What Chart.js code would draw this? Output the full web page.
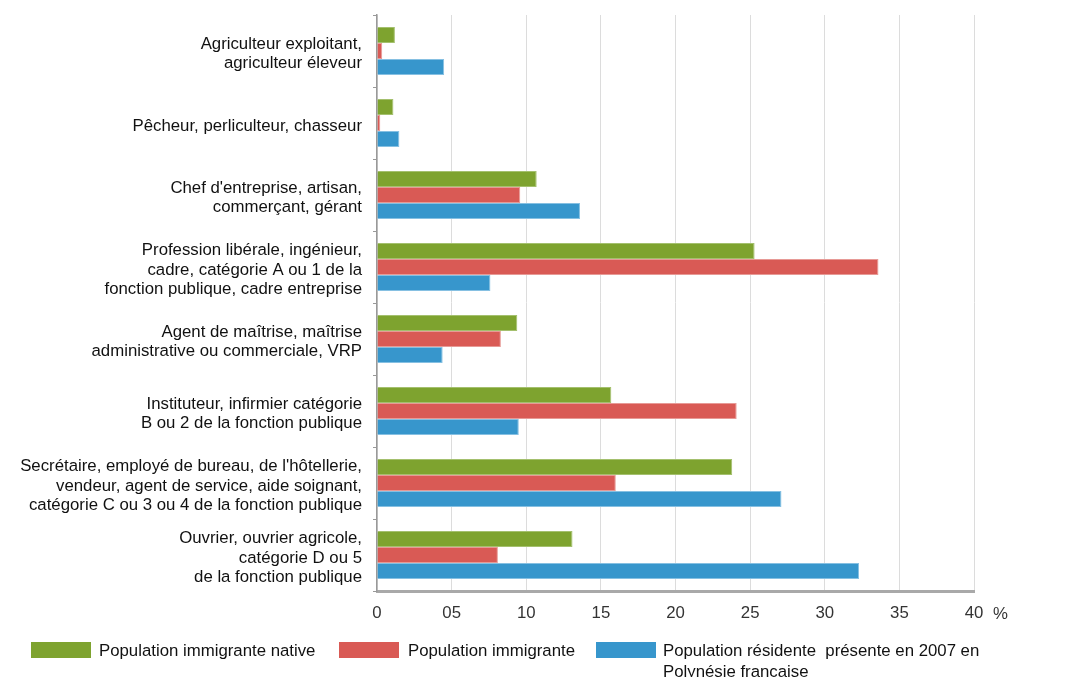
<!DOCTYPE html>
<html lang="fr">
<head>
    <meta charset="UTF-8">
    <title>Catégories socio-professionnelles</title>
    <style>
        body { margin: 0; background: #fff; font-family: "Liberation Sans", Arial, sans-serif; }
        .wrap { position: relative; width: 1070px; height: 677px; }
        .pct { position: absolute; left: 993px; top: 604px; font-size: 16.8px; color: #333; }
        .legend-item { position: absolute; font-size: 16.8px; color: #111; line-height: 21px; }
        .legend-box { position: absolute; width: 60px; height: 16px; }
    </style>
</head>
<body>
<div class="wrap">
    <canvas id="chart" width="1070" height="677"></canvas>
    <span class="pct">%</span>
    <div class="legend-box" style="left:31px; top:642px; background:#7ea32f"></div>
    <div class="legend-item" style="left:99px; top:640px">Population immigrante native</div>
    <div class="legend-box" style="left:339px; top:642px; background:#d95a55"></div>
    <div class="legend-item" style="left:408px; top:640px">Population immigrante</div>
    <div class="legend-box" style="left:596px; top:642px; background:#3796cc"></div>
    <div class="legend-item" style="left:663px; top:640px">Population résidente&nbsp; présente en 2007 en<br>Polynésie francaise</div>
</div>

<script src="https://cdn.jsdelivr.net/npm/chart.js"></script>
<script>
    // categories (multi-line labels)
    const categories = [
        ['Agriculteur exploitant,', 'agriculteur éleveur'],
        ['Pêcheur, perliculteur, chasseur'],
        ["Chef d'entreprise, artisan,", 'commerçant, gérant'],
        ['Profession libérale, ingénieur,', 'cadre, catégorie A ou 1 de la', 'fonction publique, cadre entreprise'],
        ['Agent de maîtrise, maîtrise', 'administrative ou commerciale, VRP'],
        ['Instituteur, infirmier catégorie', 'B ou 2 de la fonction publique'],
        ["Secrétaire, employé de bureau, de l'hôtellerie,", 'vendeur, agent de service, aide soignant,', 'catégorie C ou 3 ou 4 de la fonction publique'],
        ['Ouvrier, ouvrier agricole,', 'catégorie D ou 5', 'de la fonction publique']
    ];

    const seriesNames = ['Population immigrante native', 'Population immigrante', 'Population résidente présente en 2007 en Polynésie francaise'];

    const immigranteNative = [1.2, 1.1, 10.7, 25.3, 9.4, 15.7, 23.8, 13.1];
    const immigrante = [0.35, 0.22, 9.6, 33.6, 8.3, 24.1, 16.0, 8.1];
    const residente = [4.5, 1.5, 13.6, 7.6, 4.4, 9.5, 27.1, 32.3];

    const xTicks = [0, 5, 10, 15, 20, 25, 30, 35, 40];
    const xTickLabels = ['0', '05', '10', '15', '20', '25', '30', '35', '40'];

    const ctx = document.getElementById('chart').getContext('2d');
    Chart.defaults.font.family = '"Liberation Sans", Arial, sans-serif';
    Chart.defaults.font.size = 16.8;

    new Chart(ctx, {
        type: 'bar',
        data: {
            labels: categories,
            datasets: [{
                label: seriesNames[0],
                data: immigranteNative,
                backgroundColor: '#7ea32f',
                borderColor: '#a4c06e',
                borderWidth: 1
            }, {
                label: seriesNames[1],
                data: immigrante,
                backgroundColor: '#d95a55',
                borderColor: '#e79a96',
                borderWidth: 1
            }, {
                label: seriesNames[2],
                data: residente,
                backgroundColor: '#3796cc',
                borderColor: '#86c0e2',
                borderWidth: 1
            }]
        },
        options: {
            indexAxis: 'y',
            responsive: false,
            animation: false,
            layout: { padding: { top: 15, right: 96, bottom: 46, left: 0 } },
            datasets: { bar: { categoryPercentage: 0.67, barPercentage: 1.0 } },
            plugins: {
                legend: { display: false },
                tooltip: { enabled: false }
            },
            scales: {
                x: {
                    min: 0,
                    max: 40,
                    afterBuildTicks: (s) => { s.ticks = xTicks.map(v => ({ value: v })); },
                    afterFit: (s) => { s.height = 40; s.paddingLeft = 0; s.paddingRight = 0; },
                    ticks: {
                        color: '#333',
                        padding: 12,
                        callback: (v) => xTickLabels[xTicks.indexOf(v)]
                    },
                    grid: { color: '#dcdcdc', lineWidth: 1, drawTicks: false },
                    border: { color: '#a9a9a9', width: 3 }
                },
                y: {
                    afterFit: (s) => { s.width = 377; s.paddingTop = 0; s.paddingBottom = 0; },
                    ticks: { color: '#111', padding: 11, labelOffset: 3, font: { lineHeight: 1.17 } },
                    grid: { offset: true, drawOnChartArea: false, tickLength: 4, color: '#999' },
                    border: { color: '#999', width: 1.5 }
                }
            }
        }
    });
</script>
</body>
</html>
